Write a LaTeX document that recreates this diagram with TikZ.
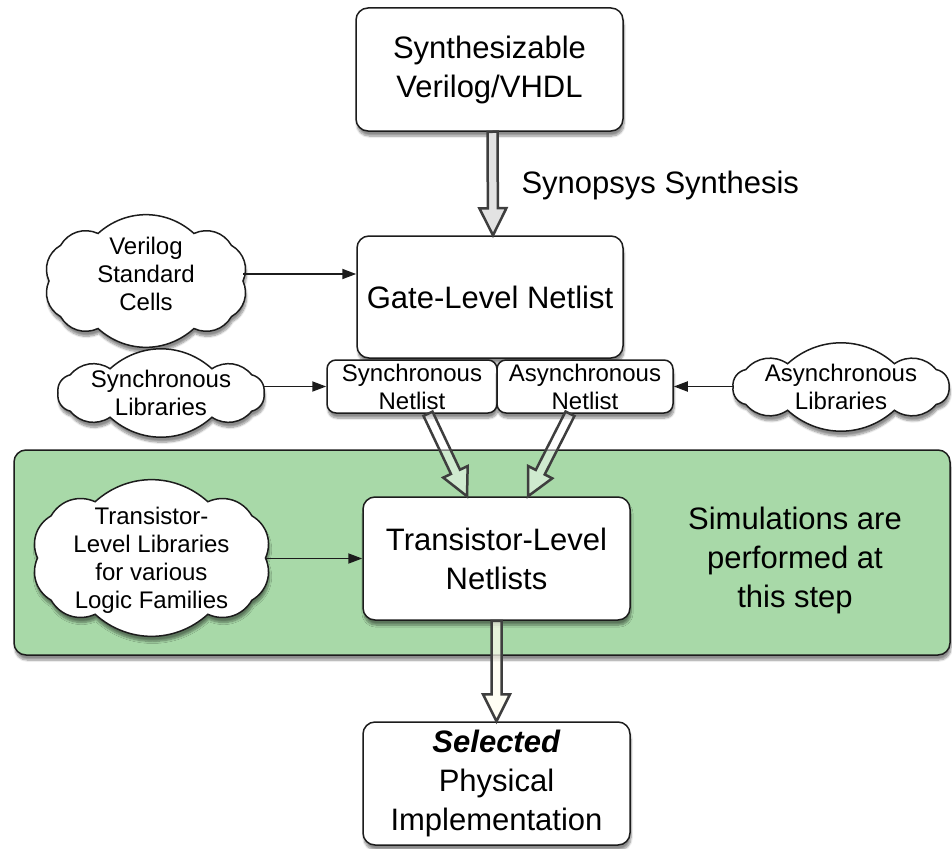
\documentclass[tikz,border=0pt]{standalone}
\usepackage{fontspec}
\setmainfont{Liberation Sans}
\usetikzlibrary{calc,arrows.meta,shadows.blur}
\definecolor{bandgreen}{RGB}{168,217,168}
\definecolor{edge}{RGB}{28,28,28}

% wide outlined arrow between two points: #2 -> #3, extra style #1
\newcommand\hollowarrow[3][]{%
  \coordinate (hA) at (#2);
  \coordinate (hB) at (#3);
  \coordinate (hC) at ($(hB)!27pt!(hA)$);
  \draw[hollow,#1]
    ($(hA)!5pt!90:(hB)$) -- ($(hC)!5pt!90:(hB)$) -- ($(hC)!13.5pt!90:(hB)$)
    -- (hB)
    -- ($(hC)!13.5pt!-90:(hB)$) -- ($(hC)!5pt!-90:(hB)$) -- ($(hA)!5pt!-90:(hB)$) -- cycle;
}

% puffy library cloud: #1 name, (#2,#3) centre, #4/#5 half sizes,
% #6 number of puffs, #7 text offset, #8 text
\newcommand\puffcloud[8]{%
  \foreach \k in {0,...,#6} {
    \pgfmathsetmacro\ct{cos(\k*360/#6)}
    \pgfmathsetmacro\st{sin(\k*360/#6)}
    \coordinate (#1-p\k) at ({#2+#4*sign(\ct)*pow(abs(\ct),0.6)},{#3+#5*sign(\st)*pow(abs(\st),0.6)});
  }
  \draw[lib] (#1-p0) \foreach \k in {1,...,#6} { to[bend left=42] (#1-p\k) } -- cycle;
  \node[small,align=center,inner sep=0pt,minimum width={2*#4pt}] (#1) at (#2,#3+#7) {#8};
}

\begin{document}
\begin{tikzpicture}[x=1pt,y=-1pt,
  big/.style={font=\fontsize{31}{39}\selectfont},
  small/.style={font=\fontsize{24}{28}\selectfont},
  softshadow/.style={blur shadow={shadow xshift=1pt,shadow yshift=-5pt,shadow blur steps=8,shadow opacity=45}},
  stage/.style={draw=edge,line width=1.5pt,rounded corners=12pt,fill=white,
    align=center,inner sep=0pt,big,minimum width=267pt,minimum height=123pt,softshadow},
  netbox/.style={stage,rounded corners=9pt,small,minimum height=53pt},
  lib/.style={draw=edge,line width=1.5pt,fill=white,line join=miter,softshadow},
  feed/.style={-{Triangle[length=14pt,width=10pt]},line width=1.8pt,draw=edge},
  hollow/.style={draw=edge!85,line width=2.5pt,line join=miter},
  zone/.style={draw=edge,line width=1.5pt,rounded corners=12pt,fill=bandgreen,
    inner sep=0pt,minimum width=936pt,minimum height=205pt,softshadow}
]
\useasboundingbox (0,0) rectangle (952,848);

% simulation band
\node[zone] (simzone) at (482,552.5) {};
\node[big,align=center] (simnote) at (795,560) {Simulations are\\performed at\\this step};

% flow boxes
\node[stage] (top) at (489.5,69.5) {Synthesizable\\Verilog/VHDL};
\node[stage,minimum width=266pt,minimum height=122pt] (gate) at (490,297) {Gate-Level Netlist};
\node[netbox,minimum width=170pt] (sync) at (412,386.5) {Synchronous\\Netlist};
\node[netbox,minimum width=176pt] (async) at (585,386.5) {Asynchronous\\Netlist};
\node[stage] (tnet) at (496.5,558.5) {Transistor-Level\\Netlists};
\node[stage] (impl) at (496.5,783.5) {\textbf{\textit{Selected}}\\Physical\\Implementation};

\node[big,anchor=west] (synlabel) at (518,185) {Synopsys Synthesis};

% library clouds
\puffcloud{vsc}{146}{281}{97}{49}{10}{-7}{Verilog\\Standard\\Cells}
\puffcloud{synlib}{161}{393}{103}{25}{10}{0}{Synchronous\\Libraries}
\puffcloud{asynlib}{841}{387}{108}{24}{10}{0}{Asynchronous\\Libraries}
\puffcloud{tlib}{151.5}{558}{114}{58}{10}{2}{Transistor-\\Level Libraries\\for various\\Logic Families}

% library inputs
\draw[feed] (vsc.east) -- (vsc.east -| gate.west);
\draw[feed] (synlib.east |- sync.west) -- (sync.west);
\draw[feed] (asynlib.west |- async.east) -- (async.east);
\draw[feed] (tlib.east |- tnet.west) -- (tnet.west);

% flow arrows
\hollowarrow[fill=gray!22]{[xshift=3pt]top.south}{[xshift=3pt]gate.north}
\hollowarrow[fill=white,fill opacity=0.45]{[xshift=16pt]sync.south}{[xshift=-29.5pt]tnet.north}
\hollowarrow[fill=white,fill opacity=0.45]{[xshift=-15pt]async.south}{[xshift=31.5pt]tnet.north}
\hollowarrow[fill=yellow!6,fill opacity=0.7]{tnet.south}{impl.north}
\end{tikzpicture}
\end{document}
